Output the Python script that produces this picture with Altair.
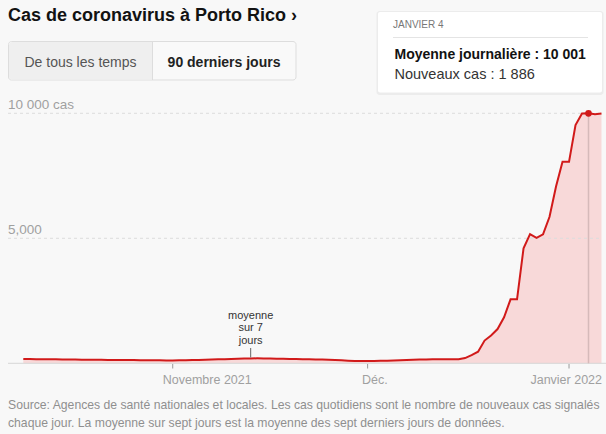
import altair as alt
import pandas as pd

# ---------------- data ----------------
start_date = "2021-10-09"
cases_avg = [
    170, 168, 165, 162, 160, 158, 155, 150, 148, 145, 142, 140, 138, 136, 135, 133, 130, 128, 125, 122, 120, 118, 115,
    115, 118, 122, 128, 135, 142, 150, 158, 165, 172, 180, 188, 195, 198, 196, 192, 186, 180, 175, 170, 165, 160, 155,
    150, 145, 135, 120, 105, 95, 90,
    90, 92, 98, 105, 115, 125, 135, 145, 150, 155, 158, 160, 160, 158,
    165, 210, 330, 465, 910, 1110, 1370, 1840, 2560, 2560, 4600, 5170, 5020, 5160, 5860, 7070, 8060, 8060, 9530,
    9990, 10001, 9960, 9990,
]
dates = pd.date_range(start_date, periods=len(cases_avg)).strftime("%Y-%m-%d").tolist()

y_ticks = [5000, 10000]
y_labels = ["5,000", "10 000 cas"]

x_tick_dates = ["2021-11-01", "2021-12-01", "2022-01-01"]
x_tick_labels = ["Novembre 2021", "Déc.", "Janvier 2022"]

hover_date = "2022-01-04"
hover_title = "JANVIER 4"
hover_avg_text = "Moyenne journalière : 10 001"
hover_new_text = "Nouveaux cas : 1 886"

annot_date = "2021-11-13"
annot_text = "moyenne\nsur 7\njours"

title_text = "Cas de coronavirus à Porto Rico ›"
btn_left = "De tous les temps"
btn_right = "90 derniers jours"
source_lines = [
    "Source: Agences de santé nationales et locales. Les cas quotidiens sont le nombre de nouveaux cas signalés",
    "chaque jour. La moyenne sur sept jours est la moyenne des sept derniers jours de données.",
]

# ---------------- styles ----------------
FONT = "Liberation Sans"
BG = "#f8f8f8"
RED = "#d11a1a"
PINK = "#f8d9d9"
label_dx = {"Novembre 2021": 34.5, "Déc.": 7.3, "Janvier 2022": -2.8}


def ms(d):
    return int(pd.Timestamp(d, tz="UTC").value // 10**6)


xscale = alt.Scale(type="utc", domain=[ms(dates[0]), ms(dates[-1])], range=[23.3, 601.5])
yscale = alt.Scale(domain=[0, 10000], range=[363.3, 113.3], nice=False, zero=False)
X = alt.X("date:T", scale=xscale, axis=None)

df = pd.DataFrame({"date": dates, "avg": cases_avg})
df_grid = pd.DataFrame({"v": y_ticks, "label": y_labels})
df_base = pd.DataFrame({"v": [0]})
df_xt = pd.DataFrame({"date": x_tick_dates, "label": x_tick_labels})
df_hover = df[df["date"] == hover_date]
df_ann = pd.DataFrame({"date": [annot_date], "text": [annot_text]})
one = pd.DataFrame({"a": [0]})

layers = []

# area under curve
layers.append(
    alt.Chart(df).mark_area(color=PINK).encode(x=X, y=alt.Y("avg:Q", scale=yscale, axis=None))
)
# gridlines
layers.append(
    alt.Chart(df_grid).mark_rule(color="#dcdcdc", strokeDash=[3, 3], strokeWidth=1).encode(
        y=alt.Y("v:Q", scale=yscale, axis=None), x=alt.value(8), x2=alt.value(602)
    )
)
# y labels
layers.append(
    alt.Chart(df_grid).mark_text(
        align="left", baseline="middle", dy=-8, font=FONT, fontSize=13.5, color="#a0a0a0"
    ).encode(y=alt.Y("v:Q", scale=yscale, axis=None), x=alt.value(8), text="label:N")
)
# baseline
layers.append(
    alt.Chart(df_base).mark_rule(color="#d6d6d6", strokeWidth=1).encode(
        y=alt.Y("v:Q", scale=yscale, axis=None), x=alt.value(8), x2=alt.value(606)
    )
)
# x ticks
layers.append(
    alt.Chart(df_xt).mark_rule(color="#999999", strokeWidth=1).encode(
        x=X, y=alt.value(364), y2=alt.value(368.5)
    )
)
# x labels
for lab in x_tick_labels:
    layers.append(
        alt.Chart(df_xt[df_xt["label"] == lab]).mark_text(
            align="center", baseline="middle", dx=label_dx[lab], font=FONT, fontSize=12.5, color="#a0a0a0"
        ).encode(x=X, y=alt.value(380), text="label:N")
    )
# hover rule
layers.append(
    alt.Chart(df_hover).mark_rule(color="#d6baba", strokeWidth=1.5).encode(
        x=X, y=alt.Y("avg:Q", scale=yscale, axis=None), y2=alt.datum(0)
    )
)
# line
layers.append(
    alt.Chart(df).mark_line(color=RED, strokeWidth=2).encode(x=X, y=alt.Y("avg:Q", scale=yscale, axis=None))
)
# hover point
layers.append(
    alt.Chart(df_hover).mark_circle(color=RED, size=45, opacity=1).encode(
        x=X, y=alt.Y("avg:Q", scale=yscale, axis=None)
    )
)
# annotation
layers.append(
    alt.Chart(df_ann).mark_rule(color="#666666", strokeWidth=1).encode(x=X, y=alt.value(348), y2=alt.value(357.5))
)
layers.append(
    alt.Chart(df_ann).mark_text(
        align="center", baseline="middle", lineBreak="\n", lineHeight=12.3, font=FONT, fontSize=11, color="#333333"
    ).encode(x=X, y=alt.value(316), text="text:N")
)

# title
layers.append(
    alt.Chart(one).mark_text(
        align="left", baseline="middle", font=FONT, fontSize=18, fontWeight="bold", color="#121212"
    ).encode(x=alt.value(8), y=alt.value(16), text=alt.value(title_text))
)
# buttons
layers.append(
    alt.Chart(one).mark_rect(fill="#f9f9f9", stroke="#dddddd", strokeWidth=1, cornerRadius=3).encode(
        x=alt.value(8.5), x2=alt.value(296), y=alt.value(41.5), y2=alt.value(80)
    )
)
layers.append(
    alt.Chart(one).mark_rect(fill="#efefef", cornerRadiusTopLeft=3, cornerRadiusBottomLeft=3).encode(
        x=alt.value(9), x2=alt.value(152.5), y=alt.value(42), y2=alt.value(79.5)
    )
)
layers.append(
    alt.Chart(one).mark_rule(color="#dddddd", strokeWidth=1).encode(
        x=alt.value(152.5), y=alt.value(41.5), y2=alt.value(80)
    )
)
layers.append(
    alt.Chart(one).mark_text(
        align="center", baseline="middle", font=FONT, fontSize=14, color="#555555"
    ).encode(x=alt.value(80.5), y=alt.value(63), text=alt.value(btn_left))
)
layers.append(
    alt.Chart(one).mark_text(
        align="center", baseline="middle", font=FONT, fontSize=14, fontWeight="bold", color="#222222"
    ).encode(x=alt.value(224), y=alt.value(63), text=alt.value(btn_right))
)
# tooltip box
layers.append(
    alt.Chart(one).mark_rect(fill="#ececec", cornerRadius=3).encode(
        x=alt.value(376.5), x2=alt.value(603.5), y=alt.value(11), y2=alt.value(95)
    )
)
layers.append(
    alt.Chart(one).mark_rect(fill="#ffffff", cornerRadius=2).encode(
        x=alt.value(378), x2=alt.value(602), y=alt.value(12), y2=alt.value(92.5)
    )
)
layers.append(
    alt.Chart(one).mark_rule(color="#e4e4e4", strokeWidth=1).encode(
        x=alt.value(393), x2=alt.value(588), y=alt.value(37.5)
    )
)
layers.append(
    alt.Chart(one).mark_text(
        align="left", baseline="middle", font=FONT, fontSize=10, color="#777777"
    ).encode(x=alt.value(393), y=alt.value(25), text=alt.value(hover_title))
)
layers.append(
    alt.Chart(one).mark_text(
        align="left", baseline="middle", font=FONT, fontSize=14, fontWeight="bold", color="#121212"
    ).encode(x=alt.value(394.5), y=alt.value(55), text=alt.value(hover_avg_text))
)
layers.append(
    alt.Chart(one).mark_text(
        align="left", baseline="middle", font=FONT, fontSize=14.5, color="#333333"
    ).encode(x=alt.value(394.5), y=alt.value(75), text=alt.value(hover_new_text))
)
# source lines
for i, line in enumerate(source_lines):
    layers.append(
        alt.Chart(one).mark_text(
            align="left", baseline="middle", font=FONT, fontSize=12.2, color="#8f8f8f"
        ).encode(x=alt.value(8), y=alt.value(405 + 17.5 * i), text=alt.value(line))
    )

chart = (
    alt.layer(*layers)
    .properties(
        width=606,
        height=434,
        autosize=alt.AutoSizeParams(type="none"),
        padding=0,
        background=BG,
    )
    .configure_view(stroke=None)
)

chart.save("out.html", embed_options={"renderer": "svg", "actions": False})
